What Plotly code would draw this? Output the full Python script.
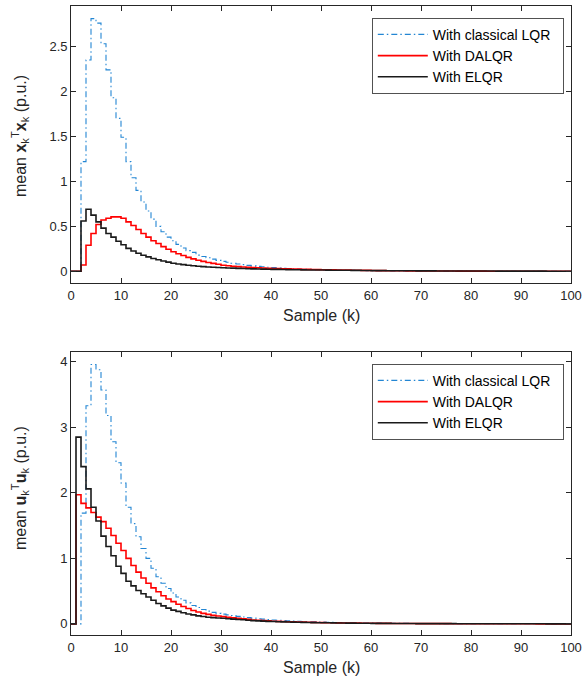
import plotly.graph_objects as go

samples = list(range(101))

# Top panel: mean x_k^T x_k
xx_lqr = [0, 0, 1.22, 2.35, 2.81, 2.76, 2.53, 2.24, 1.93, 1.70,
          1.49, 1.22, 1.04, 0.90, 0.77, 0.67, 0.58, 0.50, 0.44, 0.38,
          0.34, 0.30, 0.26, 0.23, 0.21, 0.18, 0.165, 0.15, 0.135, 0.122,
          0.11, 0.10, 0.09, 0.082, 0.074, 0.066, 0.060, 0.055, 0.050, 0.045,
          0.041, 0.037, 0.034, 0.031, 0.028, 0.026, 0.023, 0.021, 0.019, 0.017,
          0.016, 0.015, 0.014, 0.013, 0.012, 0.011, 0.010, 0.009, 0.009, 0.008,
          0.007, 0.007, 0.006, 0.006, 0.005, 0.005, 0.005, 0.004, 0.004, 0.004,
          0.003, 0.003, 0.003, 0.003, 0.002, 0.002, 0.002, 0.002, 0.002, 0.002,
          0.001, 0.001, 0.001, 0.001, 0.001, 0.001, 0.001, 0.001, 0.001, 0.001,
          0.001, 0.001, 0.001, 0.0, 0.0, 0.0, 0.0, 0.0, 0.0, 0.0, 0.0]
xx_dalqr = [0, 0, 0.07, 0.29, 0.42, 0.52, 0.57, 0.59, 0.605, 0.605,
            0.59, 0.55, 0.51, 0.465, 0.42, 0.38, 0.34, 0.31, 0.275, 0.245,
            0.218, 0.195, 0.175, 0.155, 0.138, 0.123, 0.11, 0.098, 0.088, 0.078,
            0.067, 0.062, 0.057, 0.052, 0.048, 0.045, 0.042, 0.039, 0.037, 0.034,
            0.032, 0.030, 0.028, 0.027, 0.025, 0.024, 0.022, 0.021, 0.020, 0.019,
            0.018, 0.017, 0.016, 0.015, 0.014, 0.013, 0.012, 0.011, 0.010, 0.010,
            0.009, 0.008, 0.008, 0.007, 0.007, 0.006, 0.006, 0.005, 0.005, 0.005,
            0.004, 0.004, 0.004, 0.003, 0.003, 0.003, 0.003, 0.002, 0.002, 0.002,
            0.002, 0.002, 0.002, 0.001, 0.001, 0.001, 0.001, 0.001, 0.001, 0.001,
            0.001, 0.001, 0.001, 0.001, 0.0, 0.0, 0.0, 0.0, 0.0, 0.0, 0.0]
xx_elqr = [0, 0, 0.56, 0.69, 0.625, 0.55, 0.48, 0.42, 0.38, 0.335,
           0.295, 0.255, 0.225, 0.20, 0.178, 0.16, 0.143, 0.128, 0.115, 0.102,
           0.09, 0.082, 0.074, 0.067, 0.061, 0.056, 0.052, 0.048, 0.045, 0.042,
           0.040, 0.037, 0.035, 0.033, 0.031, 0.029, 0.027, 0.026, 0.024, 0.023,
           0.022, 0.021, 0.020, 0.019, 0.018, 0.017, 0.016, 0.015, 0.015, 0.014,
           0.014, 0.013, 0.012, 0.012, 0.011, 0.011, 0.010, 0.010, 0.009, 0.009,
           0.008, 0.008, 0.008, 0.007, 0.007, 0.007, 0.006, 0.006, 0.006, 0.005,
           0.005, 0.005, 0.005, 0.004, 0.004, 0.004, 0.004, 0.004, 0.003, 0.003,
           0.003, 0.003, 0.003, 0.003, 0.003, 0.002, 0.002, 0.002, 0.002, 0.002,
           0.002, 0.002, 0.002, 0.002, 0.002, 0.001, 0.001, 0.001, 0.001, 0.001, 0.001]

# Bottom panel: mean u_k^T u_k
uu_lqr = [0, 0, 1.69, 3.33, 3.96, 3.88, 3.57, 3.18, 2.78, 2.46,
          2.15, 1.78, 1.53, 1.33, 1.15, 1.00, 0.85, 0.72, 0.62, 0.54,
          0.47, 0.41, 0.36, 0.32, 0.28, 0.25, 0.22, 0.195, 0.175, 0.16,
          0.148, 0.137, 0.127, 0.115, 0.105, 0.095, 0.087, 0.078, 0.072, 0.066,
          0.060, 0.055, 0.050, 0.046, 0.042, 0.039, 0.036, 0.033, 0.030, 0.028,
          0.026, 0.024, 0.022, 0.020, 0.019, 0.017, 0.016, 0.015, 0.014, 0.013,
          0.012, 0.011, 0.010, 0.009, 0.009, 0.008, 0.007, 0.007, 0.006, 0.006,
          0.005, 0.005, 0.005, 0.004, 0.004, 0.004, 0.003, 0.003, 0.003, 0.003,
          0.002, 0.002, 0.002, 0.002, 0.002, 0.002, 0.001, 0.001, 0.001, 0.001,
          0.001, 0.001, 0.001, 0.001, 0.001, 0.001, 0.0, 0.0, 0.0, 0.0, 0.0]
uu_dalqr = [0, 1.97, 1.84, 1.77, 1.70, 1.63, 1.56, 1.46, 1.35, 1.23,
            1.12, 1.00, 0.89, 0.79, 0.70, 0.62, 0.55, 0.49, 0.43, 0.38,
            0.34, 0.30, 0.265, 0.235, 0.205, 0.18, 0.16, 0.145, 0.13, 0.12,
            0.11, 0.10, 0.092, 0.084, 0.076, 0.068, 0.060, 0.055, 0.050, 0.045,
            0.041, 0.038, 0.035, 0.032, 0.030, 0.028, 0.026, 0.024, 0.022, 0.020,
            0.019, 0.017, 0.016, 0.015, 0.014, 0.013, 0.012, 0.011, 0.010, 0.009,
            0.009, 0.008, 0.007, 0.007, 0.006, 0.006, 0.005, 0.005, 0.005, 0.004,
            0.004, 0.004, 0.003, 0.003, 0.003, 0.003, 0.002, 0.002, 0.002, 0.002,
            0.002, 0.002, 0.001, 0.001, 0.001, 0.001, 0.001, 0.001, 0.001, 0.001,
            0.001, 0.001, 0.001, 0.0, 0.0, 0.0, 0.0, 0.0, 0.0, 0.0, 0.0]
uu_elqr = [0, 2.85, 2.40, 2.06, 1.78, 1.57, 1.34, 1.18, 1.04, 0.88,
           0.77, 0.65, 0.58, 0.51, 0.46, 0.41, 0.36, 0.31, 0.275, 0.24,
           0.21, 0.19, 0.17, 0.15, 0.137, 0.122, 0.112, 0.102, 0.095, 0.09,
           0.085, 0.078, 0.072, 0.067, 0.062, 0.056, 0.050, 0.046, 0.042, 0.038,
           0.035, 0.032, 0.030, 0.028, 0.026, 0.024, 0.022, 0.020, 0.019, 0.018,
           0.017, 0.016, 0.015, 0.014, 0.013, 0.012, 0.011, 0.010, 0.010, 0.009,
           0.008, 0.008, 0.007, 0.007, 0.006, 0.006, 0.005, 0.005, 0.005, 0.004,
           0.004, 0.004, 0.004, 0.003, 0.003, 0.003, 0.003, 0.002, 0.002, 0.002,
           0.002, 0.002, 0.002, 0.002, 0.001, 0.001, 0.001, 0.001, 0.001, 0.001,
           0.001, 0.001, 0.001, 0.001, 0.001, 0.0, 0.0, 0.0, 0.0, 0.0, 0.0]

series_names = ["With classical LQR", "With DALQR", "With ELQR"]
x_ticks = list(range(0, 101, 10))
top_yticks = [0, 0.5, 1, 1.5, 2, 2.5]
top_yticktext = ["0", "0.5", "1", "1.5", "2", "2.5"]
bot_yticks = [0, 1, 2, 3, 4]

W, H = 584, 687
FONT = "Liberation Sans, Arial, sans-serif"
AX = "#262626"
BLUE = "#2386d3"
RED = "#ff0000"
BLACK = "#1a1a1a"
PAD = "&nbsp;&nbsp;"

def px_x(p):
    return p / W

def px_y(p):
    return (H - p) / H

fig = go.Figure()

styles = [
    dict(color=BLUE, width=1.1, dash="6px,3px,1.5px,3px"),
    dict(color=RED, width=1.6),
    dict(color=BLACK, width=1.6),
]

for data, name, st in zip([xx_lqr, xx_dalqr, xx_elqr], series_names, styles):
    fig.add_trace(go.Scatter(x=samples, y=data, mode="lines", name=name + PAD,
                             line=dict(shape="hv", **st),
                             xaxis="x", yaxis="y", legend="legend"))
for data, name, st in zip([uu_lqr, uu_dalqr, uu_elqr], series_names, styles):
    fig.add_trace(go.Scatter(x=samples, y=data, mode="lines", name=name + PAD,
                             line=dict(shape="hv", **st),
                             xaxis="x2", yaxis="y2", legend="legend2"))

axis_common = dict(ticks="inside", ticklen=5, tickwidth=0.8, tickcolor=AX,
                   showline=True, linecolor=AX, linewidth=0.8, mirror="ticks",
                   showgrid=False, zeroline=False, automargin=False,
                   tickfont=dict(family=FONT, size=13, color=AX))

xdom = [px_x(71), px_x(571)]
top_dom = [px_y(283), px_y(6)]
bot_dom = [px_y(635), px_y(352)]

legend_common = dict(bgcolor="white", bordercolor=AX, borderwidth=0.8,
                     font=dict(family=FONT, size=14, color="#000000"),
                     tracegroupgap=0, itemwidth=50)

fig.update_layout(
    width=W, height=H, autosize=False,
    margin=dict(l=0, r=0, t=0, b=0, pad=0, autoexpand=False),
    paper_bgcolor="white", plot_bgcolor="white",
    font=dict(family=FONT, color=AX),
    xaxis=dict(domain=xdom, range=[0, 100], anchor="y", tickvals=x_ticks, **axis_common),
    yaxis=dict(domain=top_dom, range=[-0.13, 2.95], anchor="x",
               tickvals=top_yticks, ticktext=top_yticktext, **axis_common),
    xaxis2=dict(domain=xdom, range=[0, 100], anchor="y2", tickvals=x_ticks, **axis_common),
    yaxis2=dict(domain=bot_dom, range=[-0.17, 4.15], anchor="x2",
                tickvals=bot_yticks, **axis_common),
    legend=dict(x=px_x(372), xanchor="left", y=px_y(18), yanchor="top", **legend_common),
    legend2=dict(x=px_x(372), xanchor="left", y=px_y(364), yanchor="top", **legend_common),
    showlegend=True,
)

ann_common = dict(xref="paper", yref="paper", showarrow=False,
                  xanchor="center", yanchor="middle")
annotations = [
    dict(text="Sample (k)", x=px_x(321), y=px_y(315),
         font=dict(family=FONT, size=16, color=AX), **ann_common),
    dict(text="Sample (k)", x=px_x(321), y=px_y(667),
         font=dict(family=FONT, size=16, color=AX), **ann_common),
    dict(text="mean <b>x</b><sub>k</sub><sup>T</sup><b>x</b><sub>k</sub> (p.u.)",
         x=px_x(20), y=px_y(136), textangle=-90,
         font=dict(family=FONT, size=16, color=AX), **ann_common),
    dict(text="mean <b>u</b><sub>k</sub><sup>T</sup><b>u</b><sub>k</sub> (p.u.)",
         x=px_x(20), y=px_y(488), textangle=-90,
         font=dict(family=FONT, size=16, color=AX), **ann_common),
]
fig.update_layout(annotations=annotations)

fig.write_html(
    "out.html",
    config={"displayModeBar": False},
    post_script="document.body.style.margin='0px';document.body.style.overflow='hidden';"
                "document.documentElement.style.overflow='hidden';",
)
